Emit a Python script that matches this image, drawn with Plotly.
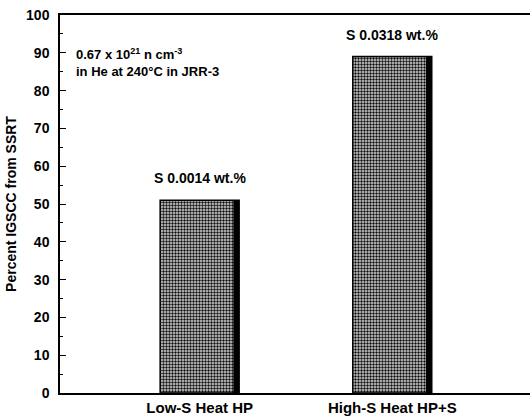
import plotly.graph_objects as go

# Irradiated specimens: percent IGSCC measured by SSRT
heats = ["Low-S Heat HP", "High-S Heat HP+S"]
igscc_pct = [51, 89]
sulfur_labels = ["S 0.0014 wt.%", "S 0.0318 wt.%"]
y_ticks = [0, 10, 20, 30, 40, 50, 60, 70, 80, 90, 100]

BAR_W = 0.41
EDGE_W = 0.03
FONT = "Liberation Sans, Arial, sans-serif"

fig = go.Figure()

# stippled bars
fig.add_trace(go.Bar(
    x=heats, y=igscc_pct, width=BAR_W,
    marker=dict(
        color="white",
        line=dict(color="black", width=1.5),
        pattern=dict(shape=".", fgcolor="#111111", bgcolor="#d8d8d8",
                     size=3, solidity=0.5, fillmode="replace"),
    ),
    hoverinfo="skip", showlegend=False,
))
# heavy shadow along the right side of each bar
fig.add_trace(go.Bar(
    x=heats, y=igscc_pct, width=EDGE_W, offset=BAR_W / 2 - EDGE_W,
    marker=dict(color="black", line=dict(width=0)),
    hoverinfo="skip", showlegend=False,
))

for h, v, lab in zip(heats, igscc_pct, sulfur_labels):
    fig.add_annotation(x=h, y=v, text=lab, showarrow=False,
                       xanchor="center", yanchor="bottom", yshift=12,
                       font=dict(family=FONT, size=14, color="black", weight="bold"))

fig.add_annotation(
    x=-0.65, y=90, xref="x", yref="y",
    text="0.67 x 10<sup>21</sup> n cm<sup>-3</sup><br>in He at 240°C in JRR-3",
    showarrow=False, xanchor="left", yanchor="middle", align="left",
    yshift=-10,
    font=dict(family=FONT, size=13, color="black", weight="bold"),
)

tick_font = dict(family=FONT, size=14, color="black", weight="bold")

fig.update_layout(
    width=530, height=420,
    margin=dict(l=60, r=0, t=15, b=27),
    paper_bgcolor="white", plot_bgcolor="white",
    barmode="overlay",
    font=dict(family=FONT, color="black"),
    xaxis=dict(
        range=[-0.725, 1.715],
        showline=True, linecolor="black", linewidth=1.5, mirror=True,
        ticks="", showgrid=False, zeroline=False,
        tickfont=dict(family=FONT, size=15, color="black", weight="bold"),
    ),
    yaxis=dict(
        range=[0, 100], tickvals=y_ticks,
        showline=True, linecolor="black", linewidth=1.5,
        ticks="inside", ticklen=6, tickwidth=1.2, tickcolor="black",
        minor=dict(dtick=5, ticks="inside", ticklen=3, tickcolor="black"),
        ticklabelstandoff=6,
        showgrid=False, zeroline=False,
        tickfont=tick_font,
        title=dict(text="Percent IGSCC from SSRT", standoff=6,
                   font=dict(family=FONT, size=14, color="black", weight="bold")),
    ),
    # tick marks along the right edge, no axis line
    yaxis2=dict(
        range=[0, 100], tickvals=y_ticks, overlaying="y", side="right",
        showline=False, showticklabels=False,
        ticks="inside", ticklen=6, tickwidth=1.2, tickcolor="black",
        minor=dict(dtick=5, ticks="inside", ticklen=3, tickcolor="black"),
        showgrid=False, zeroline=False,
    ),
)

fig.write_html("out.html")
